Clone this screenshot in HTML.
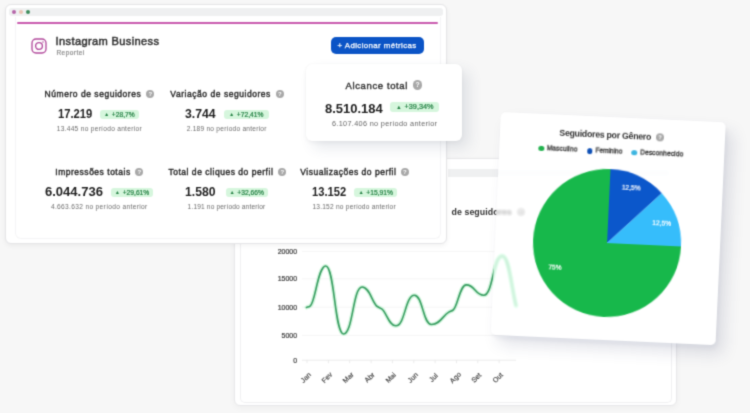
<!DOCTYPE html>
<html><head><meta charset="utf-8">
<style>
*{margin:0;padding:0;box-sizing:border-box}
html,body{width:750px;height:413px;overflow:hidden;background:#f7f7f7;font-family:"Liberation Sans",Arial,sans-serif;color:#333}
.abs{position:absolute}
.t{position:absolute;white-space:nowrap;line-height:1}
/* main window */
#main{left:5px;top:4px;width:442px;height:240px;background:#fff;border:1px solid #e5e5e7;border-radius:6px;box-shadow:0 2px 5px rgba(0,0,0,.05)}
#bar{left:9px;top:8px;width:434px;height:8px;background:#eff0f1;border-radius:3px}
.dot{position:absolute;width:4.6px;height:4.6px;border-radius:50%;top:9.7px}
#inner{left:15px;top:17px;width:426px;height:222px;border:1px solid #f5f5f6;border-top:none;border-radius:0 0 6px 6px}
#pink{left:16.5px;top:22px;width:421px;height:2.4px;background:#c95aae;border-radius:2px}
.lbl{font-size:9.4px;font-weight:bold;color:#3a3a3a}
.val{font-size:13px;font-weight:bold;color:#2b2b2b}
.sub{font-size:6.6px;color:#8a8a8a}
.tri{font-size:0.72em;position:relative;top:-0.5px;margin-right:1px}
.badge{position:absolute;height:9.5px;border-radius:3px;background:#d6f6dd;color:#207f41;font-weight:normal;-webkit-text-stroke:0.2px #207f41;font-size:6.3px;line-height:9.5px;text-align:center;white-space:nowrap}
.help{position:absolute;width:8px;height:8px;border-radius:50%;background:#a8a8a8;color:#fff;font-size:6px;line-height:8px;text-align:center;font-weight:bold}
#btn{left:330.6px;top:36.9px;width:93.5px;height:17.2px;background:#0b54c6;border-radius:5px;color:#fff;font-size:8.6px;line-height:17.5px;text-align:center;white-space:nowrap}
/* alcance */
#alc{left:306px;top:64px;width:156px;height:77px;background:#fff;border-radius:6px;box-shadow:7px 7px 14px rgba(60,70,110,.12),0 2px 4px rgba(0,0,0,.04),0 0 1.5px rgba(0,0,0,.05)}
/* chart card */
#chart{left:233.5px;top:158px;width:443.5px;height:247.5px;background:#fff;border:1px solid #e8e8ea;border-radius:6px;box-shadow:0 2px 6px rgba(0,0,0,.04)}
#cbar{left:448px;top:168.5px;width:222px;height:8px;background:#eff0f1}
.yl{position:absolute;font-size:7px;color:#555;text-align:right;width:30px;line-height:1}
.xl{position:absolute;font-size:6.6px;color:#666;line-height:1;transform:rotate(-45deg);transform-origin:right center;text-align:right;width:20px}
/* pie card */
#pie{left:501px;top:111.6px;width:225.3px;height:222.9px;transform-origin:0 0;transform:rotate(2.65deg);background:rgba(255,255,255,.58);backdrop-filter:blur(1.6px) brightness(1.045) saturate(1.5);-webkit-backdrop-filter:blur(1.6px) brightness(1.045) saturate(1.5);border-radius:5px;box-shadow:8px 9px 16px rgba(40,50,90,.13),2px 4px 5px rgba(40,50,90,.05),0 0 1.5px rgba(0,0,0,.06)}
#wrap{position:absolute;left:0;top:0;width:750px;height:413px;overflow:hidden;background:#f7f7f7;filter:url(#sb)}
</style></head><body><svg width="0" height="0" style="position:absolute"><filter id="sb" x="0" y="0" width="100%" height="100%" color-interpolation-filters="sRGB"><feConvolveMatrix order="3" kernelMatrix="1 4 1 4 16 4 1 4 1" divisor="36" edgeMode="duplicate"/></filter></svg><div id="wrap">

<!-- chart card (behind) -->
<div id="chart" class="abs"></div>
<div id="cbar" class="abs"></div>
<div class="abs" style="left:240px;top:176px;width:432px;height:226.5px;border:1px solid #f0f0f2;border-top:none;border-radius:0 0 5px 5px"></div>
<div class="t" style="left:451.60px;top:207.55px;font-size:8.8px;font-weight:bold;color:#333;letter-spacing:0.054px;">de seguidores</div>
<div class="help" style="left:516.5px;top:208px;width:8.2px;height:8.2px;line-height:8.2px;font-size:5.9px">?</div>
<svg class="abs" style="left:0;top:0" width="750" height="413">
  <g stroke="#f2f2f3" stroke-width="0.8">
    <line x1="302" y1="251.4" x2="516" y2="251.4"/>
    <line x1="302" y1="278.8" x2="516" y2="278.8"/>
    <line x1="302" y1="307.2" x2="516" y2="307.2"/>
    <line x1="302" y1="335.4" x2="516" y2="335.4"/>
  </g>
  <path d="M306.5,307.4 C307.7,307.0 308.8,306.8 310.0,306.2 C315.2,303.5 317.9,266.0 325.7,266.0 C334.6,266.0 334.6,334.0 343.6,334.0 C352.9,334.0 352.9,287.0 362.1,287.0 C369.7,287.0 372.2,303.0 377.3,306.5 C378.8,307.5 380.2,307.8 381.7,308.8 C386.4,312.0 388.8,325.8 395.9,325.8 C405.1,325.8 405.1,295.3 414.4,295.3 C422.9,295.3 422.9,324.5 431.4,324.5 C440.1,324.5 443.0,315.3 448.8,312.1 C450.3,311.3 451.7,311.0 453.2,310.0 C457.6,307.0 459.8,284.9 466.3,284.9 C475.0,284.9 475.0,295.3 483.7,295.3 C493.0,295.3 493.0,255.7 502.3,255.7 C509.2,255.7 511.6,289.4 516.2,306.3" fill="none" stroke="#d6f6e0" stroke-width="4.2" stroke-linecap="round"/>
  <path d="M306.5,307.4 C307.7,307.0 308.8,306.8 310.0,306.2 C315.2,303.5 317.9,266.0 325.7,266.0 C334.6,266.0 334.6,334.0 343.6,334.0 C352.9,334.0 352.9,287.0 362.1,287.0 C369.7,287.0 372.2,303.0 377.3,306.5 C378.8,307.5 380.2,307.8 381.7,308.8 C386.4,312.0 388.8,325.8 395.9,325.8 C405.1,325.8 405.1,295.3 414.4,295.3 C422.9,295.3 422.9,324.5 431.4,324.5 C440.1,324.5 443.0,315.3 448.8,312.1 C450.3,311.3 451.7,311.0 453.2,310.0 C457.6,307.0 459.8,284.9 466.3,284.9 C475.0,284.9 475.0,295.3 483.7,295.3 C493.0,295.3 493.0,255.7 502.3,255.7 C509.2,255.7 511.6,289.4 516.2,306.3" fill="none" stroke="#3c9f64" stroke-width="1.6" stroke-linecap="round"/>
</svg>
<div class="t" style="left:277.63px;top:247.97px;font-size:7.0px;color:#3a3a3a;-webkit-text-stroke:0.2px #3a3a3a">20000</div>
<div class="t" style="left:277.63px;top:275.37px;font-size:7.0px;color:#3a3a3a;-webkit-text-stroke:0.2px #3a3a3a">15000</div>
<div class="t" style="left:277.63px;top:303.77px;font-size:7.0px;color:#3a3a3a;-webkit-text-stroke:0.2px #3a3a3a">10000</div>
<div class="t" style="left:281.52px;top:331.97px;font-size:7.0px;color:#3a3a3a;-webkit-text-stroke:0.2px #3a3a3a">5000</div>
<div class="t" style="left:293.20px;top:356.77px;font-size:7.0px;color:#3a3a3a;-webkit-text-stroke:0.2px #3a3a3a">0</div>
<div class="t" style="left:299.86px;top:373.50px;font-size:7px;line-height:7px;color:#3d3d3d;-webkit-text-stroke:0.15px #3d3d3d;transform:rotate(-45deg);transform-origin:50% 50%">Jan</div>
<div class="t" style="left:321.02px;top:373.50px;font-size:7px;line-height:7px;color:#3d3d3d;-webkit-text-stroke:0.15px #3d3d3d;transform:rotate(-45deg);transform-origin:50% 50%">Fev</div>
<div class="t" style="left:342.17px;top:373.50px;font-size:7px;line-height:7px;color:#3d3d3d;-webkit-text-stroke:0.15px #3d3d3d;transform:rotate(-45deg);transform-origin:50% 50%">Mar</div>
<div class="t" style="left:364.10px;top:373.50px;font-size:7px;line-height:7px;color:#3d3d3d;-webkit-text-stroke:0.15px #3d3d3d;transform:rotate(-45deg);transform-origin:50% 50%">Abr</div>
<div class="t" style="left:385.26px;top:373.50px;font-size:7px;line-height:7px;color:#3d3d3d;-webkit-text-stroke:0.15px #3d3d3d;transform:rotate(-45deg);transform-origin:50% 50%">Mai</div>
<div class="t" style="left:406.61px;top:373.50px;font-size:7px;line-height:7px;color:#3d3d3d;-webkit-text-stroke:0.15px #3d3d3d;transform:rotate(-45deg);transform-origin:50% 50%">Jun</div>
<div class="t" style="left:429.13px;top:373.50px;font-size:7px;line-height:7px;color:#3d3d3d;-webkit-text-stroke:0.15px #3d3d3d;transform:rotate(-45deg);transform-origin:50% 50%">Jul</div>
<div class="t" style="left:448.72px;top:373.50px;font-size:7px;line-height:7px;color:#3d3d3d;-webkit-text-stroke:0.15px #3d3d3d;transform:rotate(-45deg);transform-origin:50% 50%">Ago</div>
<div class="t" style="left:471.05px;top:373.50px;font-size:7px;line-height:7px;color:#3d3d3d;-webkit-text-stroke:0.15px #3d3d3d;transform:rotate(-45deg);transform-origin:50% 50%">Set</div>
<div class="t" style="left:492.01px;top:373.50px;font-size:7px;line-height:7px;color:#3d3d3d;-webkit-text-stroke:0.15px #3d3d3d;transform:rotate(-45deg);transform-origin:50% 50%">Out</div>
<svg class="abs" style="left:0;top:0" width="750" height="413"><g stroke="#e6e6e6" stroke-width="0.8"><line x1="307.0" y1="360.2" x2="307.0" y2="363.2"/><line x1="328.4" y1="360.2" x2="328.4" y2="363.2"/><line x1="349.7" y1="360.2" x2="349.7" y2="363.2"/><line x1="371.1" y1="360.2" x2="371.1" y2="363.2"/><line x1="392.4" y1="360.2" x2="392.4" y2="363.2"/><line x1="413.8" y1="360.2" x2="413.8" y2="363.2"/><line x1="435.1" y1="360.2" x2="435.1" y2="363.2"/><line x1="456.5" y1="360.2" x2="456.5" y2="363.2"/><line x1="477.8" y1="360.2" x2="477.8" y2="363.2"/><line x1="499.1" y1="360.2" x2="499.1" y2="363.2"/><line x1="302" y1="360.2" x2="516" y2="360.2"/></g></svg>
<!-- main window -->
<div id="main" class="abs"></div>
<div id="bar" class="abs"></div>
<div class="dot" style="left:11.7px;background:#b566a9"></div>
<div class="dot" style="left:18.7px;background:#ebc3b3"></div>
<div class="dot" style="left:25.7px;background:#3c8c5c"></div>
<div id="inner" class="abs"></div>
<div id="pink" class="abs"></div>

<svg class="abs" style="left:30.5px;top:37.5px" width="16" height="16" viewBox="0 0 16 16">
  <rect x="1" y="1" width="14" height="14" rx="4" fill="none" stroke="#b24a9c" stroke-width="1.35"/>
  <circle cx="8" cy="8" r="3.4" fill="none" stroke="#b24a9c" stroke-width="1.35"/>
  <circle cx="12" cy="4" r="0.8" fill="#b24a9c"/>
</svg>
<div id="btn" class="abs"></div>
<div id="alc" class="abs"></div>
<div class="t" style="left:55.60px;top:35.60px;font-size:11.1px;font-weight:normal;color:#2e2e2e;letter-spacing:0.354px;-webkit-text-stroke:0.45px #2e2e2e;">Instagram Business</div>
<div class="t" style="left:56.40px;top:49.90px;font-size:6.5px;font-weight:normal;color:#888;letter-spacing:0.468px;-webkit-text-stroke:0.2px #888;">Reportei</div>
<div class="t" style="left:337.60px;top:41.81px;font-size:7.9px;font-weight:normal;color:#fff;letter-spacing:0.387px;-webkit-text-stroke:0.25px #fff;">+ Adicionar métricas</div>
<div class="t" style="left:44.60px;top:89.60px;font-size:8.5px;font-weight:normal;color:#2a2a2a;letter-spacing:0.535px;-webkit-text-stroke:0.4px #2a2a2a;">Número de seguidores</div>
<div class="t" style="left:170.30px;top:89.60px;font-size:8.5px;font-weight:normal;color:#2a2a2a;letter-spacing:0.542px;-webkit-text-stroke:0.4px #2a2a2a;">Variação de seguidores</div>
<div class="t" style="left:57.70px;top:107.78px;font-size:12.9px;font-weight:bold;color:#1f1f1f;transform:scaleX(0.8686);transform-origin:0 0;">17.219</div>
<div class="t" style="left:185.20px;top:107.78px;font-size:12.9px;font-weight:bold;color:#1f1f1f;transform:scaleX(0.9490);transform-origin:0 0;">3.744</div>
<div class="t" style="left:56.70px;top:126.01px;font-size:6.6px;font-weight:normal;color:#6c6c6c;letter-spacing:0.287px;">13.445 no período anterior</div>
<div class="t" style="left:186.70px;top:126.01px;font-size:6.6px;font-weight:normal;color:#6c6c6c;letter-spacing:0.239px;">2.189 no período anterior</div>
<div class="t" style="left:55.30px;top:168.40px;font-size:8.5px;font-weight:normal;color:#2a2a2a;letter-spacing:0.515px;-webkit-text-stroke:0.4px #2a2a2a;">Impressões totais</div>
<div class="t" style="left:168.40px;top:168.40px;font-size:8.5px;font-weight:normal;color:#2a2a2a;letter-spacing:0.528px;-webkit-text-stroke:0.4px #2a2a2a;">Total de cliques do perfil</div>
<div class="t" style="left:300.30px;top:168.40px;font-size:8.5px;font-weight:normal;color:#2a2a2a;letter-spacing:0.508px;-webkit-text-stroke:0.4px #2a2a2a;">Visualizações do perfil</div>
<div class="t" style="left:44.70px;top:186.08px;font-size:12.9px;font-weight:bold;color:#1f1f1f;transform:scaleX(1.0109);transform-origin:0 0;">6.044.736</div>
<div class="t" style="left:185.20px;top:186.08px;font-size:12.9px;font-weight:bold;color:#1f1f1f;transform:scaleX(0.9474);transform-origin:0 0;">1.580</div>
<div class="t" style="left:312.00px;top:186.08px;font-size:12.9px;font-weight:bold;color:#1f1f1f;transform:scaleX(0.8661);transform-origin:0 0;">13.152</div>
<div class="t" style="left:50.90px;top:203.91px;font-size:6.6px;font-weight:normal;color:#6c6c6c;letter-spacing:0.336px;">4.663.632 no período anterior</div>
<div class="t" style="left:187.60px;top:203.91px;font-size:6.6px;font-weight:normal;color:#6c6c6c;letter-spacing:0.148px;">1.191 no período anterior</div>
<div class="t" style="left:312.40px;top:203.91px;font-size:6.6px;font-weight:normal;color:#6c6c6c;letter-spacing:0.219px;">13.152 no período anterior</div>
<div class="t" style="left:345.60px;top:80.56px;font-size:9.5px;font-weight:normal;color:#333;letter-spacing:0.610px;-webkit-text-stroke:0.4px #333;">Alcance total</div>
<div class="t" style="left:325.40px;top:101.76px;font-size:13.4px;font-weight:bold;color:#1f1f1f;transform:scaleX(0.9697);transform-origin:0 0;">8.510.184</div>
<div class="t" style="left:332.00px;top:119.72px;font-size:7.3px;font-weight:normal;color:#666;letter-spacing:0.317px;">6.107.406 no período anterior</div>
<div class="badge" style="left:99.7px;top:109.7px;width:39.5px;height:9.4px;line-height:9.4px;font-size:6.7px"><span class="tri">▲</span> +28,7%</div>
<div class="badge" style="left:224px;top:109.7px;width:44.6px;height:9.4px;line-height:9.4px;font-size:6.7px"><span class="tri">▲</span> +72,41%</div>
<div class="badge" style="left:111.2px;top:187.9px;width:42.0px;height:9.3px;line-height:9.3px;font-size:6.7px"><span class="tri">▲</span> +29,61%</div>
<div class="badge" style="left:225.7px;top:187.9px;width:42.2px;height:9.3px;line-height:9.3px;font-size:6.7px"><span class="tri">▲</span> +32,66%</div>
<div class="badge" style="left:354.4px;top:187.9px;width:42.9px;height:9.3px;line-height:9.3px;font-size:6.7px"><span class="tri">▲</span> +15,91%</div>
<div class="badge" style="left:390.4px;top:102.3px;width:49.1px;height:10.0px;line-height:10.0px;font-size:7.3px"><span class="tri">▲</span> +39,34%</div>
<div class="help" style="left:146.3px;top:89.7px;width:8.2px;height:8.2px;line-height:8.2px;font-size:5.9px">?</div>
<div class="help" style="left:275.7px;top:89.7px;width:8.2px;height:8.2px;line-height:8.2px;font-size:5.9px">?</div>
<div class="help" style="left:135.1px;top:168.3px;width:8.2px;height:8.2px;line-height:8.2px;font-size:5.9px">?</div>
<div class="help" style="left:278.2px;top:168.3px;width:8.2px;height:8.2px;line-height:8.2px;font-size:5.9px">?</div>
<div class="help" style="left:400.7px;top:168.3px;width:8.2px;height:8.2px;line-height:8.2px;font-size:5.9px">?</div>
<div class="help" style="left:412.9px;top:80.2px;width:9.4px;height:9.4px;line-height:9.4px;font-size:6.8px">?</div>
<!-- pie card -->
<div id="pie" class="abs">
<div class="t" style="left:59.30px;top:14.15px;font-size:8.8px;font-weight:bold;color:#333;letter-spacing:-0.284px;">Seguidores por Gênero</div>
<div class="t" style="left:47.40px;top:31.01px;font-size:6.6px;font-weight:normal;color:#333;letter-spacing:0.135px;-webkit-text-stroke:0.3px #333;">Masculino</div>
<div class="t" style="left:96.30px;top:31.31px;font-size:6.6px;font-weight:normal;color:#333;letter-spacing:-0.036px;-webkit-text-stroke:0.3px #333;">Feminino</div>
<div class="t" style="left:141.00px;top:31.01px;font-size:6.6px;font-weight:normal;color:#333;letter-spacing:0.125px;-webkit-text-stroke:0.3px #333;">Desconhecido</div>
<div class="help" style="left:156.1px;top:14px;width:8px;height:8px;line-height:8px;font-size:5.8px">?</div>
<div class="abs" style="left:39.4px;top:31.7px;width:5.6px;height:5.6px;border-radius:50%;background:#1fb14c"></div>
<div class="abs" style="left:87.7px;top:32.1px;width:5.6px;height:5.6px;border-radius:50%;background:#0d4fb5"></div>
<div class="abs" style="left:132.4px;top:31.7px;width:5.6px;height:5.6px;border-radius:50%;background:#3cb5e0"></div>
<svg class="abs" style="left:38.0px;top:52.0px;overflow:visible" width="148.0" height="148.0" viewBox="-74.0 -74.0 148.0 148.0">
<path d="M0,0 L0,-74.0 A74.0,74.0 0 0 1 52.33,-52.33 Z" fill="#0b57cb"/>
<path d="M0,0 L52.33,-52.33 A74.0,74.0 0 0 1 74.00,-0.00 Z" fill="#36bdfb"/>
<path d="M0,0 L74.00,-0.00 A74.0,74.0 0 1 1 0,-74.0 Z" fill="#17b84b"/>
<g font-family="Liberation Sans" font-size="6.6" fill="#fff" text-anchor="middle" stroke="#fff" stroke-width="0.2">
<text x="21.5" y="-54.4">12,5%</text>
<text x="53.7" y="-20.5">12,5%</text>
<text x="-51" y="29.2">75%</text>
</g></svg>
</div>
</div></body></html>
